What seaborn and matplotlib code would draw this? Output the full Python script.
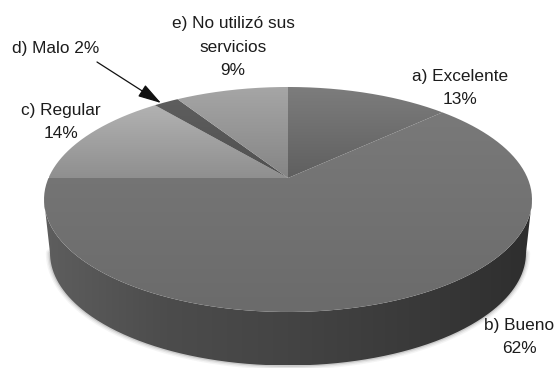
import numpy as np
import matplotlib
matplotlib.use("Agg")
import matplotlib.pyplot as plt
from matplotlib.patches import PathPatch
from matplotlib.path import Path
import seaborn as sns

# Survey answers, clockwise from twelve o'clock
categories = ["a) Excelente", "b) Bueno", "c) Regular", "d) Malo", "e) No utilizó sus servicios"]
percent = [13, 62, 14, 2, 9]
label_texts = ["a) Excelente\n13%", "b) Bueno\n62%", "c) Regular\n14%", "d) Malo 2%", "e) No utilizó sus\nservicios\n9%"]
face_ramps = [
    ["#7d7d7d", "#5f5f5f"],
    ["#797979", "#6b6b6b"],
    ["#b2b2b2", "#8f8f8f"],
    ["#5e5e5e", "#505050"],
    ["#a6a6a6", "#858585"],
]
side_ramp = ["#5e5e5e", "#4c4c4c", "#444444", "#3a3a3a", "#2e2e2e"]

sns.set_theme(style="white")
plt.rcParams["font.family"] = ["Liberation Sans", "DejaVu Sans"]

W, H = 557, 368
fig = plt.figure(figsize=(W / 100, H / 100), dpi=100)
ax = fig.add_axes([0, 0, 1, 1])
ax.set_xlim(0, W)
ax.set_ylim(H, 0)
ax.axis("off")

# Perspective tilt of the disc
CX, CY, R, K, A = 288.0, 178.0, 239.5, 0.191, -74.4
TOP_RX, TOP_RY, TOP_CY = 244.0, 112.5, 199.5
BASE_RX, BASE_RY, BASE_CY = 238.0, 112.5, 253.0


def project(theta):
    u, v = np.sin(theta), np.cos(theta)
    d = 1 + K * v
    return CX + R * u / d, (CY + A * v) / d


def fill_gradient(path, colors, vertical=True, zorder=2):
    cmap = sns.blend_palette(colors, as_cmap=True)
    grad = np.linspace(0, 1, 256)
    grad = grad[:, None] if vertical else grad[None, :]
    x0, y0 = path.vertices.min(axis=0)
    x1, y1 = path.vertices.max(axis=0)
    im = ax.imshow(grad, cmap=cmap, extent=(x0, x1, y1, y0), aspect="auto", zorder=zorder, interpolation="bilinear")
    patch = PathPatch(path, transform=ax.transData, fc="none", ec="none")
    ax.add_patch(patch)
    im.set_clip_path(patch)


# Lower half of the disc outline, left to right
t = np.linspace(np.pi, 0, 300)
top_x, top_y = CX + TOP_RX * np.cos(t), TOP_CY + TOP_RY * np.sin(t)
base_x, base_y = CX + BASE_RX * np.cos(t), BASE_CY + BASE_RY * np.sin(t)

# Soft shadow along the rim
for lw, alpha in [(6, 0.05), (4, 0.08), (2, 0.14)]:
    ax.plot(base_x, base_y, color="#333333", lw=lw, alpha=alpha, zorder=1)

# Rim of the disc
rim = Path(np.column_stack([np.r_[top_x, base_x[::-1]], np.r_[top_y, base_y[::-1]]]))
fill_gradient(rim, side_ramp, vertical=False)

# Top face, one wedge per answer
edges = np.cumsum([0] + percent) / sum(percent) * 2 * np.pi
for start, stop, ramp in zip(edges[:-1], edges[1:], face_ramps):
    th = np.linspace(start, stop, 200)
    x, y = project(th)
    wedge = Path(np.column_stack([np.r_[CX, x, CX], np.r_[CY, y, CY]]))
    fill_gradient(wedge, ramp, zorder=3)

text_color = "#1c1c1c"
size = 12.4
spacing = 1.7
ax.text(460, 88, label_texts[0], ha="center", va="center", fontsize=size, color=text_color, linespacing=spacing)
ax.text(519, 337, label_texts[1], ha="center", va="center", fontsize=size, color=text_color, linespacing=spacing)
ax.text(61, 122, label_texts[2], ha="center", va="center", fontsize=size, color=text_color, linespacing=spacing)
ax.text(56, 48, label_texts[3], ha="center", va="center", fontsize=size, color=text_color)
ax.text(233, 47, label_texts[4], ha="center", va="center", fontsize=size, color=text_color, linespacing=spacing)

ax.annotate("", xy=(161, 103), xytext=(97, 62), zorder=5,
            arrowprops=dict(arrowstyle="-|>,head_length=1.2,head_width=0.35", mutation_scale=12,
                            color="#111111", lw=0.9, shrinkA=0, shrinkB=0))

fig.savefig("out.png", dpi=100)
